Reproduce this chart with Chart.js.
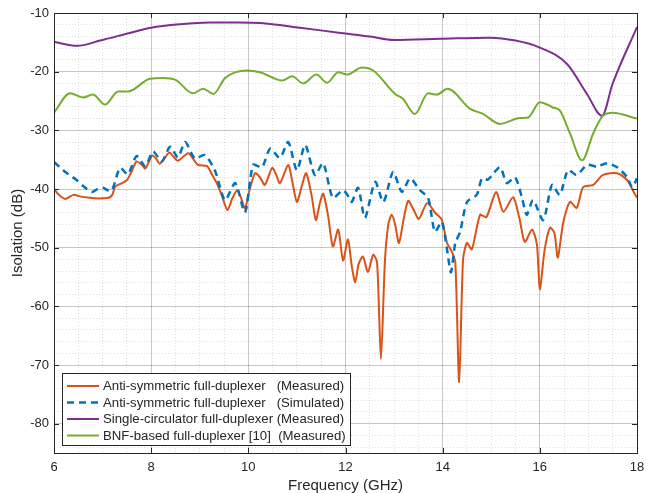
<!DOCTYPE html>
<html>
<head>
<meta charset="utf-8">
<script src="https://cdn.jsdelivr.net/npm/chart.js@4.4.0/dist/chart.umd.min.js"></script>
<style>
  html, body { margin: 0; padding: 0; background: #fff; }
</style>
</head>
<body>
<canvas id="isoChart" width="652" height="493"></canvas>
<script>
// Anti-symmetric full-duplexer, measured
const measFreq = [6.0, 6.1, 6.23, 6.4, 6.55, 6.74, 6.9, 7.12, 7.2, 7.26, 7.4, 7.5, 7.6, 7.7, 7.8, 7.88, 8.02, 8.1, 8.18, 8.37, 8.46, 8.55, 8.76, 8.86, 8.96, 9.15, 9.25, 9.35, 9.45, 9.57, 9.67, 9.77, 9.85, 9.93, 10.03, 10.14, 10.24, 10.34, 10.49, 10.57, 10.65, 10.82, 10.9, 11.0, 11.1, 11.19, 11.3, 11.39, 11.47, 11.54, 11.64, 11.74, 11.85, 11.95, 12.05, 12.13, 12.2, 12.27, 12.36, 12.46, 12.57, 12.65, 12.73, 12.81, 12.88, 12.95, 13.02, 13.1, 13.2, 13.29, 13.4, 13.51, 13.68, 13.84, 13.98, 14.09, 14.19, 14.26, 14.34, 14.42, 14.5, 14.6, 14.77, 14.9, 15.1, 15.25, 15.45, 15.58, 15.69, 15.84, 15.94, 16.0, 16.1, 16.21, 16.3, 16.37, 16.48, 16.62, 16.76, 16.89, 17.1, 17.3, 17.59, 17.8, 17.9, 18.0];
const measIso = [-40.0, -41.0, -41.7, -41.0, -41.3, -41.5, -41.6, -41.5, -41.0, -39.6, -39.0, -38.5, -37.0, -35.3, -35.8, -36.5, -34.3, -34.8, -35.7, -33.8, -34.5, -35.2, -33.9, -34.8, -35.9, -36.1, -37.5, -39.0, -41.0, -43.6, -41.6, -40.2, -41.5, -43.3, -40.0, -37.3, -38.0, -39.3, -36.4, -37.5, -39.0, -35.9, -38.5, -42.2, -39.5, -37.3, -41.0, -45.3, -42.5, -40.8, -44.5, -49.8, -46.9, -52.2, -48.6, -53.2, -55.9, -52.8, -51.5, -54.2, -51.2, -52.5, -69.0, -52.5, -46.1, -44.4, -46.0, -49.2, -45.0, -42.0, -43.5, -45.1, -42.4, -44.0, -45.2, -49.2, -50.7, -52.5, -72.9, -52.0, -49.2, -50.3, -44.4, -44.8, -40.5, -43.9, -41.4, -45.0, -49.0, -46.9, -49.5, -57.1, -50.3, -46.6, -47.5, -51.7, -45.8, -42.2, -43.2, -39.7, -39.3, -37.6, -37.3, -38.5, -40.0, -41.5];

// Anti-symmetric full-duplexer, simulated
const simFreq = [6.0, 6.19, 6.3, 6.47, 6.6, 6.78, 6.9, 7.01, 7.1, 7.19, 7.36, 7.52, 7.7, 7.88, 8.04, 8.22, 8.39, 8.55, 8.7, 8.9, 9.1, 9.31, 9.52, 9.73, 9.93, 10.1, 10.28, 10.45, 10.65, 10.82, 11.0, 11.17, 11.37, 11.54, 11.74, 11.95, 12.07, 12.13, 12.26, 12.4, 12.61, 12.78, 12.98, 13.16, 13.33, 13.53, 13.7, 13.84, 13.98, 14.09, 14.17, 14.26, 14.36, 14.5, 14.7, 14.81, 14.93, 15.18, 15.32, 15.49, 15.63, 15.73, 15.86, 16.07, 16.25, 16.41, 16.58, 16.76, 16.97, 17.18, 17.38, 17.59, 17.8, 17.9, 18.0];
const simIso = [-35.4, -36.8, -37.5, -38.5, -39.5, -40.5, -40.0, -39.8, -40.2, -40.3, -36.4, -37.5, -34.4, -36.1, -33.6, -35.3, -32.8, -34.6, -32.0, -34.8, -34.2, -36.8, -41.9, -39.0, -44.0, -35.9, -36.3, -33.1, -34.7, -32.0, -36.8, -32.5, -37.6, -35.6, -41.5, -40.2, -41.4, -42.2, -39.8, -44.9, -38.8, -42.2, -37.1, -40.5, -38.2, -40.2, -41.5, -47.3, -45.6, -50.3, -54.2, -49.2, -47.3, -42.2, -41.0, -38.2, -38.4, -36.3, -39.0, -38.0, -41.4, -44.4, -41.9, -45.3, -39.3, -41.0, -36.8, -37.6, -35.9, -36.2, -35.6, -36.3, -38.0, -39.7, -38.2];

// Single-circulator full-duplexer, measured
const circFreq = [6.0, 6.47, 6.95, 7.56, 8.0, 8.6, 9.2, 9.8, 10.25, 11.06, 11.9, 12.5, 13.0, 13.95, 14.97, 15.5, 16.0, 16.56, 16.97, 17.28, 17.5, 18.0];
const circIso = [-14.9, -15.6, -14.7, -13.4, -12.5, -11.9, -11.6, -11.6, -11.7, -12.5, -13.4, -14.0, -14.6, -14.4, -14.2, -14.7, -15.9, -18.7, -23.8, -27.5, -22.0, -12.4];

// BNF-based full-duplexer [10], measured
const bnfFreq = [6.0, 6.33, 6.6, 6.8, 7.05, 7.32, 7.52, 7.98, 8.24, 8.5, 8.86, 9.07, 9.28, 9.52, 9.97, 10.24, 10.7, 10.9, 11.13, 11.4, 11.62, 11.85, 12.03, 12.34, 12.57, 13.02, 13.18, 13.43, 13.7, 13.88, 14.1, 14.56, 14.83, 15.18, 15.59, 15.76, 16.0, 16.27, 16.41, 16.62, 16.87, 17.1, 17.3, 17.5, 18.0];
const bnfIso = [-27.0, -23.7, -24.4, -23.9, -25.6, -23.4, -23.4, -21.2, -21.1, -21.4, -23.7, -22.9, -23.8, -21.1, -19.8, -20.1, -21.5, -20.8, -22.0, -20.5, -21.9, -20.1, -20.5, -19.3, -19.8, -23.8, -24.6, -27.2, -23.7, -23.9, -22.9, -26.3, -27.2, -28.9, -27.9, -27.8, -25.2, -26.1, -26.6, -30.5, -35.1, -30.5, -27.5, -27.0, -28.0];

const seriesLabels = [
    'Anti-symmetric full-duplexer   (Measured)',
    'Anti-symmetric full-duplexer   (Simulated)',
    'Single-circulator full-duplexer (Measured)',
    'BNF-based full-duplexer [10]  (Measured)'
];

const xMajorTicks = [6, 8, 10, 12, 14, 16, 18];
const yMajorTicks = [-80, -70, -60, -50, -40, -30, -20, -10];
const xMin = 6, xMax = 18, xMinorStep = 0.5;
const yMin = -85, yMax = -10, yMinorStep = 2;

function toPoints(xs, ys) {
    return xs.map((x, i) => ({ x: x, y: ys[i] }));
}

const xTickVals = [];
for (let v = xMin; v <= xMax + 1e-9; v += xMinorStep) xTickVals.push(+v.toFixed(2));
const yTickVals = [];
for (let v = -84; v <= yMax; v += yMinorStep) yTickVals.push(v);

const axisColor = '#262626';
const fontFamily = '"Liberation Sans", Arial, Helvetica, sans-serif';
const majorGrid = 'rgba(0,0,0,0.22)';
const minorGrid = 'rgba(0,0,0,0.13)';

function isMajor(list, v) {
    return list.some(t => Math.abs(t - v) < 1e-6);
}

// box around the plot plus inward tick marks
const framePlugin = {
    id: 'frame',
    afterDatasetsDraw(chart) {
        const ctx = chart.ctx;
        const a = chart.chartArea;
        const xs = chart.scales.x, ys = chart.scales.y;
        ctx.save();
        ctx.strokeStyle = axisColor;
        ctx.lineWidth = 1;
        ctx.beginPath();
        xMajorTicks.forEach(v => {
            const px = Math.round(xs.getPixelForValue(v)) + 0.5;
            ctx.moveTo(px, a.bottom); ctx.lineTo(px, a.bottom - 5);
            ctx.moveTo(px, a.top); ctx.lineTo(px, a.top + 5);
        });
        yMajorTicks.forEach(v => {
            const py = Math.round(ys.getPixelForValue(v)) + 0.5;
            ctx.moveTo(a.left, py); ctx.lineTo(a.left + 5, py);
            ctx.moveTo(a.right, py); ctx.lineTo(a.right - 5, py);
        });
        ctx.stroke();
        ctx.strokeRect(Math.round(a.left) + 0.5, Math.round(a.top) + 0.5,
            Math.round(a.right - a.left), Math.round(a.bottom - a.top));
        ctx.restore();
    }
};

// legend box inside the plot, lower left
const legendPlugin = {
    id: 'boxLegend',
    afterDraw(chart) {
        const ctx = chart.ctx;
        const bx = 62.5, by = 373.5, bw = 288, bh = 72;
        ctx.save();
        ctx.fillStyle = '#ffffff';
        ctx.fillRect(bx, by, bw, bh);
        ctx.strokeStyle = axisColor;
        ctx.lineWidth = 1;
        ctx.strokeRect(bx, by, bw, bh);
        ctx.font = '13.2px ' + fontFamily;
        ctx.textBaseline = 'middle';
        ctx.fillStyle = axisColor;
        chart.data.datasets.forEach((ds, i) => {
            const ry = 386 + i * 16.5;
            ctx.strokeStyle = ds.borderColor;
            ctx.lineWidth = ds.borderWidth;
            ctx.setLineDash(ds.borderDash || []);
            ctx.beginPath();
            ctx.moveTo(67, ry);
            ctx.lineTo(99, ry);
            ctx.stroke();
            ctx.setLineDash([]);
            ctx.fillText(ds.label, 103, ry + 0.5);
        });
        ctx.restore();
    }
};

new Chart(document.getElementById('isoChart'), {
    type: 'line',
    data: {
        datasets: [
            {
                label: seriesLabels[0],
                data: toPoints(measFreq, measIso),
                borderColor: '#D95319',
                borderWidth: 2,
                tension: 0.25,
                order: 3
            },
            {
                label: seriesLabels[1],
                data: toPoints(simFreq, simIso),
                borderColor: '#0072BD',
                borderWidth: 2.5,
                borderDash: [7, 5],
                tension: 0.25,
                order: 2
            },
            {
                label: seriesLabels[2],
                data: toPoints(circFreq, circIso),
                borderColor: '#7E2F8E',
                borderWidth: 2,
                cubicInterpolationMode: 'monotone',
                order: 1
            },
            {
                label: seriesLabels[3],
                data: toPoints(bnfFreq, bnfIso),
                borderColor: '#77AC30',
                borderWidth: 2,
                cubicInterpolationMode: 'monotone',
                order: 0
            }
        ]
    },
    options: {
        responsive: false,
        animation: false,
        events: [],
        layout: {
            padding: { top: 13, right: 15, left: 0, bottom: 0 }
        },
        elements: {
            point: { radius: 0 }
        },
        plugins: {
            legend: { display: false },
            tooltip: { enabled: false }
        },
        scales: {
            x: {
                type: 'linear',
                min: xMin,
                max: xMax,
                afterBuildTicks: scale => {
                    scale.ticks = xTickVals.map(v => ({ value: v }));
                },
                afterFit: scale => { scale.height = 40; },
                ticks: {
                    autoSkip: false,
                    maxRotation: 0,
                    padding: 7,
                    color: axisColor,
                    font: { family: fontFamily, size: 13 },
                    callback: v => isMajor(xMajorTicks, v) ? String(v) : ''
                },
                grid: {
                    drawTicks: false,
                    color: ctx => isMajor(xMajorTicks, ctx.tick.value) ? majorGrid : minorGrid,
                    lineWidth: 1
                },
                border: {
                    display: false,
                    dash: ctx => isMajor(xMajorTicks, ctx.tick.value) ? [] : [1, 2]
                },
                title: {
                    display: true,
                    text: 'Frequency (GHz)',
                    color: axisColor,
                    font: { family: fontFamily, size: 15 },
                    padding: { top: 0, bottom: -2 }
                }
            },
            y: {
                type: 'linear',
                min: yMin,
                max: yMax,
                afterBuildTicks: scale => {
                    scale.ticks = yTickVals.map(v => ({ value: v }));
                },
                afterFit: scale => { scale.width = 54; },
                ticks: {
                    autoSkip: false,
                    padding: 5,
                    color: axisColor,
                    font: { family: fontFamily, size: 13 },
                    callback: v => isMajor(yMajorTicks, v) ? String(v) : ''
                },
                grid: {
                    drawTicks: false,
                    color: ctx => isMajor(yMajorTicks, ctx.tick.value) ? majorGrid : minorGrid,
                    lineWidth: 1
                },
                border: {
                    display: false,
                    dash: ctx => isMajor(yMajorTicks, ctx.tick.value) ? [] : [1, 2]
                },
                title: {
                    display: true,
                    text: 'Isolation (dB)',
                    color: axisColor,
                    font: { family: fontFamily, size: 15 },
                    padding: { top: 9, bottom: 0 }
                }
            }
        }
    },
    plugins: [framePlugin, legendPlugin]
});
</script>
</body>
</html>
